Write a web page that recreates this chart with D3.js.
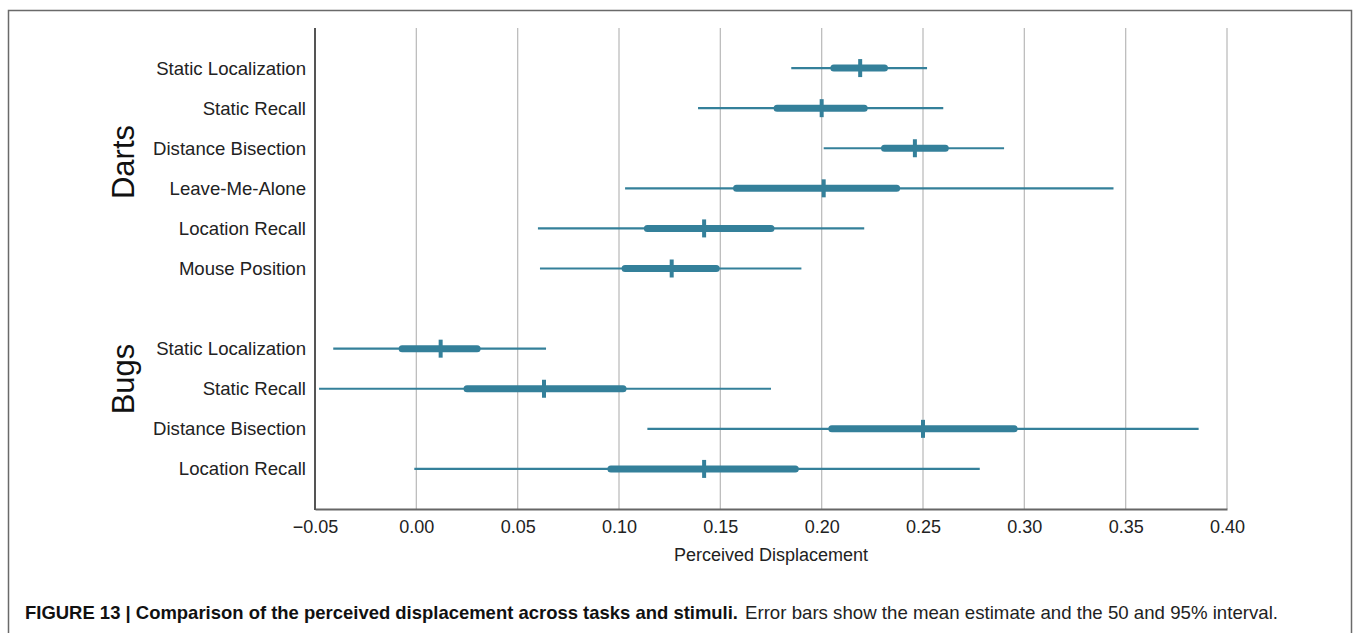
<!DOCTYPE html>
<html>
<head>
<meta charset="utf-8">
<script src="https://cdn.jsdelivr.net/npm/d3@7"></script>
<style>
  html, body { margin: 0; padding: 0; background: #fff; }
  svg { display: block; font-family: "Liberation Sans", Arial, sans-serif; }
</style>
</head>
<body>
<svg id="chart" width="1356" height="633"></svg>
<script>
// --- DATOS ---
const rowGroups = ["Darts", "Darts", "Darts", "Darts", "Darts", "Darts", "Bugs", "Bugs", "Bugs", "Bugs"];
const rowLabels = ["Static Localization", "Static Recall", "Distance Bisection", "Leave-Me-Alone",
                   "Location Recall", "Mouse Position",
                   "Static Localization", "Static Recall", "Distance Bisection", "Location Recall"];
const lo95  = [0.185, 0.139, 0.201, 0.103, 0.060, 0.061, -0.041, -0.048, 0.114, -0.001];
const lo50  = [0.206, 0.178, 0.231, 0.158, 0.114, 0.103, -0.007, 0.025, 0.205, 0.096];
const means = [0.219, 0.200, 0.246, 0.201, 0.142, 0.126, 0.012, 0.063, 0.250, 0.142];
const hi50  = [0.231, 0.221, 0.261, 0.237, 0.175, 0.148, 0.030, 0.102, 0.295, 0.187];
const hi95  = [0.252, 0.260, 0.290, 0.344, 0.221, 0.190, 0.064, 0.175, 0.386, 0.278];
const xTicks = [-0.05, 0, 0.05, 0.10, 0.15, 0.20, 0.25, 0.30, 0.35, 0.40];
const groupNames = ["Darts", "Bugs"];

const color = "#34809a";

const svg = d3.select("#chart");

// marco de la figura
svg.append("rect")
    .attr("x", 8.5).attr("y", 10.5)
    .attr("width", 1343).attr("height", 640)
    .attr("fill", "none")
    .attr("stroke", "#6a6a6a")
    .attr("stroke-width", 1.5);

const plotL = 315, plotR = 1227, plotT = 28, plotB = 509;

const x = d3.scaleLinear().domain([-0.05, 0.40]).range([plotL, plotR]);

// filas, con un hueco entre grupos
const rows = rowLabels.map((d, i) => ({
    key: rowGroups[i] + "|" + d, group: rowGroups[i], label: d,
    lo95: lo95[i], lo50: lo50[i], mean: means[i], hi50: hi50[i], hi95: hi95[i]
}));
const keys = rows.filter(r => r.group === "Darts").map(r => r.key)
    .concat(["gap"], rows.filter(r => r.group === "Bugs").map(r => r.key));
const y = d3.scalePoint().domain(keys).range([plotT, plotB]).padding(1);

// Grid
svg.append("g").selectAll("line")
    .data(xTicks.slice(1))
    .join("line")
    .attr("x1", d => x(d)).attr("x2", d => x(d))
    .attr("y1", plotT).attr("y2", plotB)
    .attr("stroke", "#bdbdbd")
    .attr("stroke-width", 1.3);

// Eje X
const xAxis = svg.append("g")
    .attr("transform", `translate(0,${plotB})`)
    .call(d3.axisBottom(x).tickValues(xTicks).tickSize(0).tickPadding(11)
        .tickFormat(d => d3.format(".2f")(d).replace("-", "\u2212")));
xAxis.select(".domain").attr("stroke", "#666").attr("stroke-width", 2);
xAxis.selectAll("text").attr("font-size", 18).attr("fill", "#222")
    .attr("font-family", "Liberation Sans, Arial, sans-serif");

svg.append("line")
    .attr("x1", plotL).attr("x2", plotL)
    .attr("y1", plotT).attr("y2", plotB + 1)
    .attr("stroke", "#555").attr("stroke-width", 2);

svg.append("text")
    .attr("x", (plotL + plotR) / 2).attr("y", 561)
    .attr("text-anchor", "middle")
    .attr("font-size", 18).attr("fill", "#222")
    .text("Perceived Displacement");

// etiquetas de tareas
svg.append("g").selectAll("text")
    .data(rows)
    .join("text")
    .attr("x", 306)
    .attr("y", d => y(d.key))
    .attr("dy", "0.35em")
    .attr("text-anchor", "end")
    .attr("font-size", 18.6).attr("fill", "#222")
    .text(d => d.label);

// etiquetas de grupo (rotadas)
const groupY = { Darts: 162, Bugs: 379 };
svg.append("g").selectAll("text")
    .data(groupNames)
    .join("text")
    .attr("transform", d => `translate(134,${groupY[d]}) rotate(-90)`)
    .attr("text-anchor", "middle")
    .attr("font-size", 31).attr("fill", "#111")
    .text(d => d);

// Barras de error
const bars = svg.append("g").selectAll("g")
    .data(rows)
    .join("g")
    .attr("transform", d => `translate(0,${y(d.key)})`);

bars.append("line")
    .attr("x1", d => x(d.lo95)).attr("x2", d => x(d.hi95))
    .attr("stroke", color).attr("stroke-width", 2.2);

bars.append("line")
    .attr("x1", d => x(d.lo50)).attr("x2", d => x(d.hi50))
    .attr("stroke", color).attr("stroke-width", 7)
    .attr("stroke-linecap", "round");

bars.append("line")
    .attr("x1", d => x(d.mean)).attr("x2", d => x(d.mean))
    .attr("y1", -9).attr("y2", 9)
    .attr("stroke", color).attr("stroke-width", 4);

// Pie de figura
const cap1 = svg.append("text")
    .attr("x", 25).attr("y", 619)
    .attr("font-size", 19).attr("font-weight", "bold").attr("fill", "#111")
    .text("FIGURE 13 | Comparison of the perceived displacement across tasks and stimuli.");
cap1.attr("textLength", 713).attr("lengthAdjust", "spacingAndGlyphs");

const cap2 = svg.append("text")
    .attr("x", 745).attr("y", 619)
    .attr("font-size", 19).attr("fill", "#222")
    .text("Error bars show the mean estimate and the 50 and 95% interval.");
cap2.attr("textLength", 533).attr("lengthAdjust", "spacingAndGlyphs");
</script>
</body>
</html>
